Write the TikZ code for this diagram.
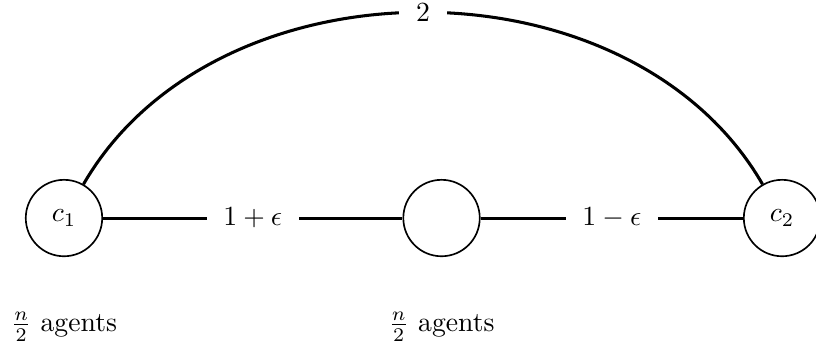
\documentclass[tikz,border=0pt]{standalone}
\begin{document}
\begin{tikzpicture}[agent/.style={circle, draw, semithick, minimum size=0.97cm, inner sep=0pt},
  link/.style={line width=1.1pt},
  cost/.style={fill=white, inner sep=6pt}]
\useasboundingbox (0,0) rectangle (10.355,4.48);
\node[agent] (c1) at (0.812,1.713) {$c_1$};
\node[agent] (mid) at (5.603,1.713) {};
\node[agent] (c2) at (9.924,1.713) {$c_2$};
\draw[link] (c1) -- node[cost] {$1+\epsilon$} (mid);
\draw[link] (mid) -- node[cost] {$1-\epsilon$} (c2);
\draw[link] (c1) to[bend left=60] node[cost] {$2$} (c2);
\node (group1) at (0.812,0.33) {$\frac{n}{2}$ agents};
\node (group2) at (5.603,0.33) {$\frac{n}{2}$ agents};
\end{tikzpicture}
\end{document}
